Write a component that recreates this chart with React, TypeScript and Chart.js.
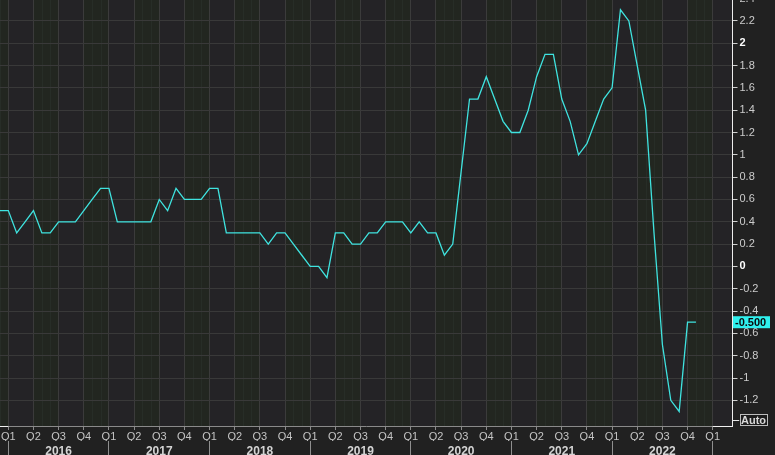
import React, { useEffect, useRef } from 'react';
import { Chart, registerables } from 'chart.js';

Chart.register(...registerables);

// ---- data ----
const months: string[] = [
  '2015-12',
  '2016-01', '2016-02', '2016-03', '2016-04', '2016-05', '2016-06', '2016-07', '2016-08', '2016-09', '2016-10', '2016-11', '2016-12',
  '2017-01', '2017-02', '2017-03', '2017-04', '2017-05', '2017-06', '2017-07', '2017-08', '2017-09', '2017-10', '2017-11', '2017-12',
  '2018-01', '2018-02', '2018-03', '2018-04', '2018-05', '2018-06', '2018-07', '2018-08', '2018-09', '2018-10', '2018-11', '2018-12',
  '2019-01', '2019-02', '2019-03', '2019-04', '2019-05', '2019-06', '2019-07', '2019-08', '2019-09', '2019-10', '2019-11', '2019-12',
  '2020-01', '2020-02', '2020-03', '2020-04', '2020-05', '2020-06', '2020-07', '2020-08', '2020-09', '2020-10', '2020-11', '2020-12',
  '2021-01', '2021-02', '2021-03', '2021-04', '2021-05', '2021-06', '2021-07', '2021-08', '2021-09', '2021-10', '2021-11', '2021-12',
  '2022-01', '2022-02', '2022-03', '2022-04', '2022-05', '2022-06', '2022-07', '2022-08', '2022-09', '2022-10', '2022-11',
];

const values: number[] = [
  0.5,
  0.5, 0.3, 0.4, 0.5, 0.3, 0.3, 0.4, 0.4, 0.4, 0.5, 0.6, 0.7,
  0.7, 0.4, 0.4, 0.4, 0.4, 0.4, 0.6, 0.5, 0.7, 0.6, 0.6, 0.6,
  0.7, 0.7, 0.3, 0.3, 0.3, 0.3, 0.3, 0.2, 0.3, 0.3, 0.2, 0.1,
  0.0, 0.0, -0.1, 0.3, 0.3, 0.2, 0.2, 0.3, 0.3, 0.4, 0.4, 0.4,
  0.3, 0.4, 0.3, 0.3, 0.1, 0.2, 0.85, 1.5, 1.5, 1.7, 1.5, 1.3,
  1.2, 1.2, 1.4, 1.7, 1.9, 1.9, 1.5, 1.3, 1.0, 1.1, 1.3, 1.5,
  1.6, 2.3, 2.2, 1.8, 1.4, 0.3, -0.7, -1.2, -1.3, -0.5, -0.5,
];

const quarterLabels = ['Q1', 'Q2', 'Q3', 'Q4'];
const years = [2016, 2017, 2018, 2019, 2020, 2021, 2022, 2023];
const yearLabels = ['2016', '2017', '2018', '2019', '2020', '2021', '2022'];
const yTicks = [2.4, 2.2, 2, 1.8, 1.6, 1.4, 1.2, 1, 0.8, 0.6, 0.4, 0.2, 0, -0.2, -0.4, -0.6, -0.8, -1, -1.2];
const yTickLabels = ['2.4', '2.2', '2', '1.8', '1.6', '1.4', '1.2', '1', '0.8', '0.6', '0.4', '0.2', '0', '-0.2', '-0.4', '-0.6', '-0.8', '-1', '-1.2'];

// ---- helpers ----
const BASE_YEAR = 2016;
const monthIndex = (s: string) => {
  const [y, m] = s.split('-').map(Number);
  return (y - BASE_YEAR) * 12 + (m - 1);
};

const FONT = '"Liberation Sans", Arial, sans-serif';
const LINE = '#3fe3df';
const DARK = '#242326';
const GREEN = '#222620';
const MONTHLINE = '#272d27';
const OUTER = '#212121';

const bandPlugin = {
  id: 'bands',
  beforeDraw(chart: any) {
    const { ctx, chartArea: a } = chart;
    const x = chart.scales.x;
    ctx.save();
    ctx.fillStyle = OUTER;
    ctx.fillRect(0, 0, chart.width, chart.height);
    ctx.beginPath();
    ctx.rect(a.left, a.top, a.right - a.left, a.bottom - a.top);
    ctx.clip();
    ctx.fillStyle = DARK;
    ctx.fillRect(a.left, a.top, a.right - a.left, a.bottom - a.top);
    for (let q = -2; q <= 30; q++) {
      const qi = ((q % 4) + 4) % 4;
      if (qi !== 1 && qi !== 3) continue;
      const s = q * 3;
      const x0 = x.getPixelForValue(s);
      const x1 = x.getPixelForValue(s + 3);
      ctx.fillStyle = GREEN;
      ctx.fillRect(x0, a.top, x1 - x0, a.bottom - a.top);
      ctx.strokeStyle = MONTHLINE;
      ctx.lineWidth = 1;
      for (let m = 1; m <= 2; m++) {
        const px = Math.round(x.getPixelForValue(s + m)) + 0.5;
        ctx.beginPath();
        ctx.moveTo(px, a.top);
        ctx.lineTo(px, a.bottom);
        ctx.stroke();
      }
    }
    ctx.restore();
  },
  afterDraw(chart: any) {
    const { ctx, chartArea: a } = chart;
    const x = chart.scales.x;
    const y = chart.scales.y;
    ctx.save();
    // white ends of the time axis
    ctx.strokeStyle = '#f0f0f0';
    ctx.lineWidth = 1;
    const by = Math.round(a.bottom) + 0.5;
    ctx.beginPath();
    ctx.moveTo(a.left, by);
    ctx.lineTo(x.getPixelForValue(0), by);
    ctx.moveTo(x.getPixelForValue(84), by);
    ctx.lineTo(a.right, by);
    ctx.stroke();

    // last value marker
    const last = values[values.length - 1];
    const py = y.getPixelForValue(last);
    ctx.fillStyle = '#2ff0ee';
    ctx.fillRect(a.right + 0.5, py - 6, 37, 12);
    ctx.fillStyle = '#0b0b0b';
    ctx.font = `bold 11px ${FONT}`;
    ctx.textBaseline = 'middle';
    ctx.textAlign = 'left';
    ctx.fillText(last.toFixed(3), a.right + 2.5, py + 0.5);

    // Auto box
    const bx = a.right + 7;
    const bh = 12;
    const byy = a.bottom - bh;
    ctx.strokeStyle = '#e8e8e8';
    ctx.beginPath();
    ctx.moveTo(a.right, Math.round(byy + bh / 2) + 0.5);
    ctx.lineTo(bx, Math.round(byy + bh / 2) + 0.5);
    ctx.stroke();
    ctx.fillStyle = '#1c1c1c';
    ctx.fillRect(bx, byy, 28, bh);
    ctx.strokeStyle = '#bdbdbd';
    ctx.strokeRect(Math.round(bx) + 0.5, Math.round(byy) + 0.5, 27, bh - 1);
    ctx.fillStyle = '#d8d8d8';
    ctx.font = `bold 11px ${FONT}`;
    ctx.textAlign = 'center';
    ctx.fillText('Auto', bx + 14, byy + bh / 2 + 0.5);
    ctx.restore();
  },
};

export default function App() {
  const ref = useRef<HTMLCanvasElement | null>(null);

  useEffect(() => {
    if (!ref.current) return;
    const pts = months.map((m, k) => ({ x: monthIndex(m), y: values[k] }));
    const quarterTicks: number[] = [];
    for (let v = 0; v <= 84; v += 3) quarterTicks.push(v);
    const yearTickVals: number[] = [];
    years.forEach((yr, k) => {
      yearTickVals.push((yr - BASE_YEAR) * 12);
      if (k < yearLabels.length) yearTickVals.push((yr - BASE_YEAR) * 12 + 6);
    });

    const chart = new Chart(ref.current, {
      type: 'line',
      data: {
        datasets: [
          {
            data: pts,
            borderColor: LINE,
            borderWidth: 1.3,
            pointRadius: 0,
            tension: 0,
            fill: false,
          },
        ],
      },
      options: {
        animation: false,
        responsive: false,
        maintainAspectRatio: false,
        layout: { padding: { top: 8.4, left: 0, right: 0, bottom: 0 } },
        plugins: { legend: { display: false }, tooltip: { enabled: false } },
        scales: {
          x: {
            type: 'linear',
            position: 'bottom',
            weight: 0,
            min: -0.99,
            max: 86.36,
            afterBuildTicks: (axis: any) => {
              axis.ticks = quarterTicks.map((v) => ({ value: v }));
            },
            afterFit: (axis: any) => {
              axis.height = 15;
            },
            grid: {
              color: '#3b3b3b',
              lineWidth: 1,
              drawTicks: true,
              tickLength: 4,
              tickColor: '#8a8a8a',
            },
            border: { display: true, color: '#8a8a8a', width: 1 },
            ticks: {
              autoSkip: false,
              maxRotation: 0,
              padding: 0,
              color: '#c4c4c4',
              font: { family: FONT, size: 11 },
              callback: (v: any) => quarterLabels[(((Number(v) / 3) % 4) + 4) % 4],
            },
          },
          x2: {
            type: 'linear',
            position: 'bottom',
            weight: 1,
            min: -0.99,
            max: 86.36,
            afterBuildTicks: (axis: any) => {
              axis.ticks = yearTickVals.map((v) => ({ value: v }));
            },
            afterFit: (axis: any) => {
              axis.height = 14;
            },
            grid: {
              drawOnChartArea: false,
              drawTicks: true,
              tickLength: 15,
              tickWidth: 1,
              tickColor: (ctx: any) =>
                ctx.tick && ctx.tick.value % 12 === 0 ? '#8f8f8f' : 'rgba(0,0,0,0)',
              color: 'rgba(0,0,0,0)',
            },
            border: { display: false },
            ticks: {
              autoSkip: false,
              maxRotation: 0,
              padding: -12,
              color: '#d4d4d4',
              font: { family: FONT, size: 12, weight: 'bold' },
              callback: (v: any) => {
                const n = Number(v);
                if (n % 12 !== 6) return '';
                return yearLabels[(n - 6) / 12] ?? '';
              },
            },
          },
          y: {
            type: 'linear',
            position: 'right',
            min: -1.43,
            max: 2.4,
            afterBuildTicks: (axis: any) => {
              axis.ticks = yTicks.map((v) => ({ value: v }));
            },
            afterFit: (axis: any) => {
              axis.width = 42.5;
            },
            grid: {
              color: '#393939',
              lineWidth: 1,
              drawTicks: true,
              tickLength: 5,
              tickColor: '#d0d0d0',
            },
            border: { display: true, color: '#ededed', width: 1 },
            ticks: {
              autoSkip: false,
              padding: 2,
              color: (ctx: any) =>
                ctx.tick && (ctx.tick.value === 0 || ctx.tick.value === 2) ? '#ffffff' : '#cccccc',
              font: (ctx: any) => ({
                family: FONT,
                size: 11,
                weight: ctx.tick && (ctx.tick.value === 0 || ctx.tick.value === 2) ? 'bold' : 'normal',
              }),
              callback: (v: any) => {
                const idx = yTicks.findIndex((t) => Math.abs(t - Number(v)) < 1e-9);
                return idx >= 0 ? yTickLabels[idx] : '';
              },
            },
          },
        },
      } as any,
      plugins: [bandPlugin],
    });
    return () => chart.destroy();
  }, []);

  return (
    <div style={{ position: 'absolute', left: 0, top: -10, width: 775, height: 465 }}>
      <canvas ref={ref} width={775} height={465} style={{ display: 'block', width: 775, height: 465 }} />
    </div>
  );
}
